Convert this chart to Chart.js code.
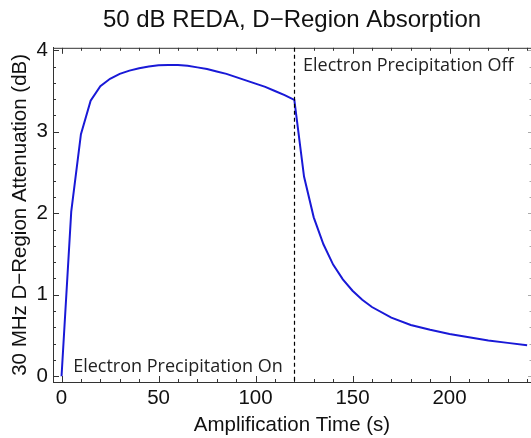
<!DOCTYPE html>
<html>
<head>
<meta charset="utf-8">
<script src="https://cdn.jsdelivr.net/npm/chart.js@4.4.1/dist/chart.umd.min.js"></script>
<style>
    html, body { margin: 0; padding: 0; background: #fff; }
    #wrap { width: 531px; height: 438px; }
</style>
</head>
<body>
<div id="wrap"><canvas id="js-reda-chart"></canvas></div>
<script>
// Data
const times = [0, 5, 10, 15, 20, 25, 30, 35, 40, 45, 50, 55, 60, 65, 70, 75, 80, 85, 90, 95, 100, 105, 110, 115, 120,
    125, 130, 135, 140, 145, 150, 155, 160, 170, 180, 190, 200, 210, 220, 230, 240];
const attenuation = [0, 2.02, 2.97, 3.38, 3.56, 3.65, 3.71, 3.75, 3.78, 3.80, 3.815, 3.82, 3.82, 3.81, 3.79, 3.77, 3.74, 3.71, 3.67, 3.63, 3.59, 3.55, 3.50, 3.45, 3.39,
    2.45, 1.95, 1.62, 1.37, 1.19, 1.05, 0.94, 0.85, 0.72, 0.63, 0.57, 0.52, 0.48, 0.44, 0.41, 0.38];
const xTicks = [0, 50, 100, 150, 200];
const yTicks = [0, 1, 2, 3, 4];
const switchOffTime = 120;

const axisFont = { family: "'Liberation Sans', Arial, sans-serif", size: 20.5 };

// Frame ticks pointing inward, plus the dashed switch-off line and notes
const framePlugin = {
    id: "frame",
    afterDatasetsDraw(chart) {
        const ctx = chart.ctx;
        const a = chart.chartArea;
        const xs = chart.scales.x, ys = chart.scales.y;
        ctx.save();
        ctx.strokeStyle = "#333";
        ctx.lineWidth = 1;
        ctx.beginPath();
        for (let v = 0; v <= 240; v += 10) {
            const px = Math.round(xs.getPixelForValue(v)) + 0.5;
            const len = v % 50 === 0 ? 6 : 3;
            ctx.moveTo(px, a.bottom); ctx.lineTo(px, a.bottom - len);
            ctx.moveTo(px, a.top); ctx.lineTo(px, a.top + len);
        }
        for (let i = 0; i <= 20; i++) {
            const v = i * 0.2;
            const py = Math.round(ys.getPixelForValue(v)) + 0.5;
            const len = i % 5 === 0 ? 6 : 3;
            ctx.moveTo(a.left, py); ctx.lineTo(a.left + len, py);
        }
        ctx.stroke();
        // right frame lies just past the edge: only its ticks show, faintly
        ctx.strokeStyle = "#aaa";
        ctx.beginPath();
        for (let i = 0; i <= 20; i++) {
            const py = Math.round(ys.getPixelForValue(i * 0.2)) + 0.5;
            ctx.moveTo(a.right, py); ctx.lineTo(a.right - (i % 5 === 0 ? 3 : 1.5), py);
        }
        ctx.stroke();
        // top frame
        ctx.strokeStyle = "#333";
        ctx.beginPath();
        ctx.moveTo(a.left, a.top + 0.5); ctx.lineTo(a.right, a.top + 0.5);
        ctx.stroke();

        // dashed line at switch-off
        const lx = Math.round(xs.getPixelForValue(switchOffTime)) + 0.5;
        ctx.strokeStyle = "#000";
        ctx.lineWidth = 1.2;
        ctx.setLineDash([4, 3]);
        ctx.beginPath();
        ctx.moveTo(lx, a.top); ctx.lineTo(lx, a.bottom);
        ctx.stroke();
        ctx.setLineDash([]);

        // notes
        ctx.fillStyle = "#222";
        ctx.font = "18px 'Open Sans', sans-serif";
        ctx.textBaseline = "alphabetic";
        ctx.textAlign = "left";
        ctx.fillText("Electron Precipitation On", xs.getPixelForValue(6), ys.getPixelForValue(0) - 4);
        ctx.fillText("Electron Precipitation Off", xs.getPixelForValue(124.5), ys.getPixelForValue(3.93) + 15);
        ctx.restore();
    },
};

let chartCon = document.getElementById("js-reda-chart");

let chartData = {
    datasets: [
        {
            label: "Attenuation",
            data: times.map((t, i) => ({ x: t, y: attenuation[i] })),
            borderColor: "rgb(25, 25, 215)",
            borderWidth: 2,
            pointRadius: 0,
            tension: 0,
            fill: false,
        },
    ],
};

let chartOptions = {
    responsive: true,
    maintainAspectRatio: false,
    animation: false,
    layout: { padding: { left: 0, right: 0, top: 0, bottom: 0 } },
    plugins: {
        legend: { display: false },
        tooltip: { enabled: false },
        title: {
            display: true,
            fullSize: false,
            text: "50 dB REDA, D\u2212Region Absorption",
            color: "#111",
            font: { family: "'Liberation Sans', Arial, sans-serif", size: 24, weight: "normal" },
            padding: { top: 6, bottom: 13 },
        },
    },
    scales: {
        x: {
            type: "linear",
            min: -4.4,
            max: 242,
            afterBuildTicks: (s) => { s.ticks = xTicks.map((v) => ({ value: v })); },
            afterFit: (s) => { s.height = 56; },
            grid: { display: false, drawTicks: false },
            border: { display: true, color: "#333", width: 1 },
            ticks: { color: "#111", font: axisFont, padding: 4, maxRotation: 0 },
            title: { display: true, text: "Amplification Time (s)", color: "#111", font: axisFont, padding: { top: 2, bottom: 0 } },
        },
        y: {
            type: "linear",
            min: -0.07,
            max: 4.03,
            afterBuildTicks: (s) => { s.ticks = yTicks.map((v) => ({ value: v })); },
            afterFit: (s) => { s.width = 53; },
            grid: { display: false, drawTicks: false },
            border: { display: true, color: "#333", width: 1 },
            ticks: { color: "#111", font: axisFont, padding: 5 },
            title: { display: true, text: "30 MHz D\u2212Region Attenuation (dB)", color: "#111", font: axisFont, padding: { top: 8, bottom: 2 } },
        },
    },
};

new Chart(chartCon, {
    type: "line",
    data: chartData,
    options: chartOptions,
    plugins: [framePlugin],
});
</script>
</body>
</html>
